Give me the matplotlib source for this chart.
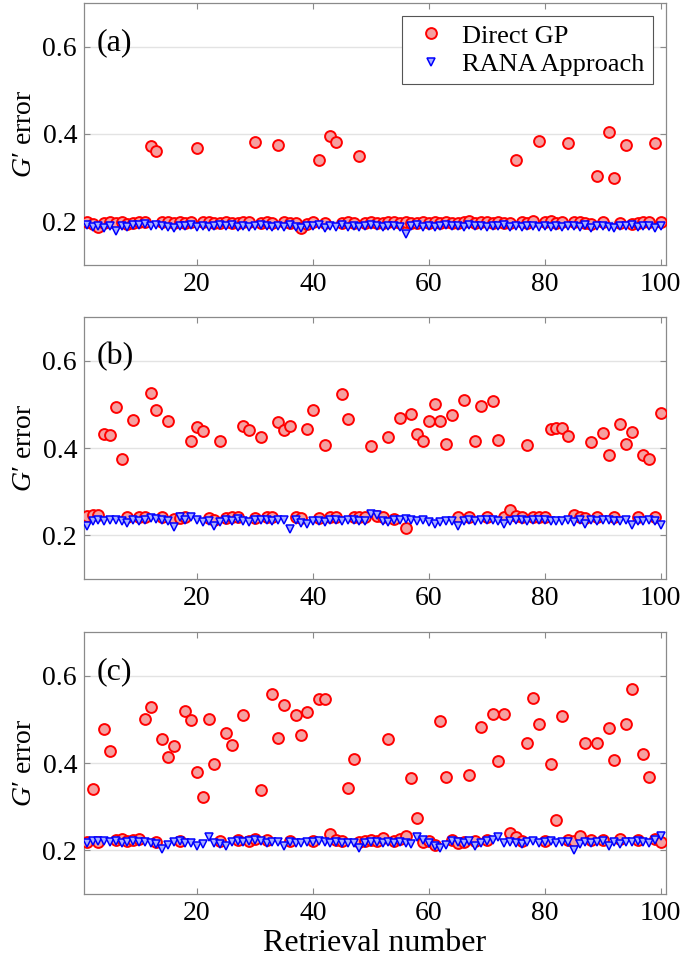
import numpy as np
import matplotlib
matplotlib.use("Agg")
import matplotlib.pyplot as plt

plt.rcParams["font.family"] = ["Liberation Serif", "DejaVu Serif"]
plt.rcParams["mathtext.fontset"] = "custom"
plt.rcParams["mathtext.rm"] = "Liberation Serif"
plt.rcParams["mathtext.it"] = "Liberation Serif:italic"

retrieval = np.arange(1, 101)

# panel (a)
gp_a = [0.199, 0.193, 0.188, 0.197, 0.199, 0.197, 0.199, 0.194, 0.196, 0.199,
        0.198, 0.373, 0.360, 0.198, 0.199, 0.197, 0.199, 0.196, 0.198, 0.369,
        0.198, 0.199, 0.197, 0.196, 0.199, 0.197, 0.195, 0.199, 0.198, 0.382,
        0.197, 0.199, 0.196, 0.374, 0.198, 0.197, 0.195, 0.184, 0.193, 0.198,
        0.340, 0.197, 0.395, 0.382, 0.196, 0.198, 0.197, 0.349, 0.196, 0.198,
        0.197, 0.195, 0.198, 0.199, 0.196, 0.199, 0.197, 0.195, 0.198, 0.197,
        0.199, 0.196, 0.198, 0.197, 0.195, 0.199, 0.200, 0.197, 0.199, 0.198,
        0.196, 0.199, 0.197, 0.195, 0.341, 0.198, 0.197, 0.200, 0.384, 0.199,
        0.200, 0.197, 0.198, 0.380, 0.198, 0.199, 0.197, 0.193, 0.304, 0.198,
        0.405, 0.300, 0.195, 0.375, 0.193, 0.196, 0.198, 0.199, 0.380, 0.199]
rana_a = [0.191, 0.186, 0.189, 0.185, 0.190, 0.177, 0.189, 0.187, 0.191, 0.192,
          0.193, 0.190, 0.192, 0.189, 0.188, 0.185, 0.190, 0.189, 0.191, 0.188,
          0.190, 0.186, 0.189, 0.191, 0.190, 0.192, 0.188, 0.190, 0.186, 0.189,
          0.191, 0.190, 0.187, 0.190, 0.188, 0.191, 0.187, 0.185, 0.190, 0.189,
          0.191, 0.184, 0.190, 0.188, 0.191, 0.186, 0.190, 0.188, 0.190, 0.191,
          0.189, 0.187, 0.190, 0.189, 0.187, 0.171, 0.190, 0.191, 0.188, 0.190,
          0.186, 0.189, 0.191, 0.189, 0.190, 0.188, 0.191, 0.189, 0.190, 0.187,
          0.190, 0.189, 0.191, 0.188, 0.190, 0.186, 0.189, 0.190, 0.187, 0.190,
          0.188, 0.190, 0.186, 0.189, 0.190, 0.188, 0.191, 0.184, 0.190, 0.189,
          0.187, 0.184, 0.190, 0.189, 0.191, 0.188, 0.190, 0.189, 0.184, 0.190]

# panel (b)
gp_b = [0.244, 0.247, 0.246, 0.433, 0.430, 0.495, 0.375, 0.241, 0.465, 0.241,
        0.243, 0.526, 0.486, 0.242, 0.463, 0.238, 0.240, 0.243, 0.416, 0.448,
        0.439, 0.240, 0.235, 0.415, 0.240, 0.242, 0.243, 0.450, 0.442, 0.240,
        0.426, 0.243, 0.241, 0.460, 0.441, 0.451, 0.243, 0.240, 0.444, 0.486,
        0.239, 0.406, 0.242, 0.243, 0.523, 0.467, 0.242, 0.242, 0.243, 0.405,
        0.244, 0.241, 0.425, 0.238, 0.469, 0.217, 0.477, 0.432, 0.416, 0.463,
        0.500, 0.463, 0.409, 0.476, 0.242, 0.511, 0.243, 0.415, 0.497, 0.241,
        0.507, 0.419, 0.243, 0.258, 0.245, 0.241, 0.407, 0.242, 0.241, 0.241,
        0.444, 0.447, 0.447, 0.427, 0.246, 0.242, 0.240, 0.413, 0.241, 0.435,
        0.384, 0.241, 0.454, 0.409, 0.437, 0.241, 0.383, 0.375, 0.241, 0.480]
rana_b = [0.222, 0.232, 0.236, 0.234, 0.235, 0.235, 0.234, 0.229, 0.235, 0.232,
          0.236, 0.240, 0.237, 0.235, 0.233, 0.220, 0.242, 0.235, 0.243, 0.236,
          0.230, 0.233, 0.222, 0.231, 0.236, 0.234, 0.237, 0.234, 0.231, 0.235,
          0.236, 0.235, 0.234, 0.235, 0.235, 0.214, 0.235, 0.229, 0.225, 0.232,
          0.233, 0.230, 0.236, 0.236, 0.234, 0.235, 0.236, 0.233, 0.232, 0.248,
          0.246, 0.233, 0.231, 0.236, 0.235, 0.237, 0.236, 0.234, 0.236, 0.230,
          0.225, 0.230, 0.234, 0.232, 0.222, 0.233, 0.236, 0.234, 0.236, 0.235,
          0.236, 0.234, 0.226, 0.234, 0.236, 0.235, 0.234, 0.235, 0.236, 0.235,
          0.234, 0.233, 0.234, 0.236, 0.231, 0.236, 0.227, 0.235, 0.234, 0.236,
          0.235, 0.234, 0.233, 0.235, 0.224, 0.233, 0.234, 0.235, 0.234, 0.223]

# panel (c)
gp_c = [0.219, 0.340, 0.220, 0.477, 0.428, 0.224, 0.225, 0.221, 0.224, 0.225,
        0.502, 0.528, 0.220, 0.455, 0.414, 0.439, 0.222, 0.520, 0.499, 0.380,
        0.322, 0.502, 0.398, 0.222, 0.468, 0.442, 0.224, 0.509, 0.221, 0.225,
        0.338, 0.224, 0.558, 0.458, 0.534, 0.221, 0.511, 0.465, 0.517, 0.221,
        0.546, 0.547, 0.238, 0.224, 0.222, 0.342, 0.409, 0.220, 0.222, 0.223,
        0.221, 0.228, 0.456, 0.222, 0.226, 0.234, 0.365, 0.275, 0.219, 0.221,
        0.213, 0.497, 0.368, 0.223, 0.216, 0.220, 0.373, 0.221, 0.482, 0.223,
        0.512, 0.405, 0.512, 0.240, 0.230, 0.222, 0.446, 0.550, 0.490, 0.222,
        0.398, 0.270, 0.508, 0.223, 0.221, 0.234, 0.447, 0.224, 0.445, 0.223,
        0.481, 0.408, 0.225, 0.490, 0.570, 0.223, 0.420, 0.368, 0.226, 0.219]
rana_c = [0.217, 0.221, 0.222, 0.221, 0.220, 0.222, 0.218, 0.220, 0.221, 0.219,
          0.220, 0.217, 0.215, 0.203, 0.212, 0.219, 0.221, 0.218, 0.216, 0.209,
          0.214, 0.230, 0.218, 0.214, 0.210, 0.219, 0.221, 0.220, 0.222, 0.223,
          0.221, 0.218, 0.220, 0.219, 0.210, 0.219, 0.218, 0.216, 0.219, 0.220,
          0.222, 0.219, 0.218, 0.220, 0.218, 0.216, 0.217, 0.205, 0.218, 0.220,
          0.219, 0.217, 0.220, 0.218, 0.220, 0.216, 0.214, 0.230, 0.224, 0.216,
          0.210, 0.206, 0.212, 0.222, 0.220, 0.218, 0.221, 0.210, 0.217, 0.221,
          0.224, 0.230, 0.217, 0.220, 0.216, 0.214, 0.219, 0.222, 0.218, 0.219,
          0.221, 0.216, 0.220, 0.219, 0.201, 0.215, 0.219, 0.218, 0.220, 0.221,
          0.210, 0.219, 0.214, 0.220, 0.219, 0.221, 0.220, 0.218, 0.224, 0.232]

panel_labels = ["(a)", "(b)", "(c)"]
x_ticks = [20, 40, 60, 80, 100]
y_ticks = [0.2, 0.4, 0.6]

fig = plt.figure(figsize=(6.85, 9.72), dpi=100)
bottoms = [0.7274, 0.4043, 0.0802]
frame = "#8a8a8a"

panels = [(gp_a, rana_a), (gp_b, rana_b), (gp_c, rana_c)]
for i, (gp, rana) in enumerate(panels):
    ax = fig.add_axes([0.1226, bottoms[i], 0.8496, 0.2695])
    ax.plot(retrieval, gp, 'o', ls='none', ms=7.8, mew=1.4,
            mec='red', mfc='#f5a0a0', label='Direct GP', zorder=3)
    ax.plot(retrieval, rana, 'v', ls='none', ms=5.5, mew=1.1,
            mec='blue', mfc='#a8b0ff', label='RANA Approach', zorder=4)
    ax.set_xlim(0.5, 100.9)
    ax.set_ylim(0.1, 0.7)
    ax.set_xticks(x_ticks)
    ax.set_yticks(y_ticks)
    ax.yaxis.grid(True, color='#e3e3e3', lw=1.0)
    ax.set_axisbelow(True)
    ax.tick_params(direction='in', top=True, right=True, length=4,
                   color=frame, labelsize=20, pad=5)
    for s in ax.spines.values():
        s.set_color(frame)
        s.set_linewidth(0.9)
    ax.set_ylabel("$G$\u2032 error", fontsize=20, labelpad=4)
    ax.text(0.022, 0.85, panel_labels[i], transform=ax.transAxes,
            fontsize=23, va='center', ha='left')
    if i == 0:
        leg = ax.legend(loc='upper right', fontsize=19, frameon=True,
                        fancybox=False, edgecolor='#555555', framealpha=1,
                        handletextpad=0.4, borderaxespad=0.5,
                        labelspacing=0.2, borderpad=0.3, handlelength=1.6)
        leg.get_frame().set_linewidth(0.8)
    if i == 2:
        ax.set_xlabel("Retrieval number", fontsize=23, labelpad=2)

fig.savefig("out.png", dpi=100)
